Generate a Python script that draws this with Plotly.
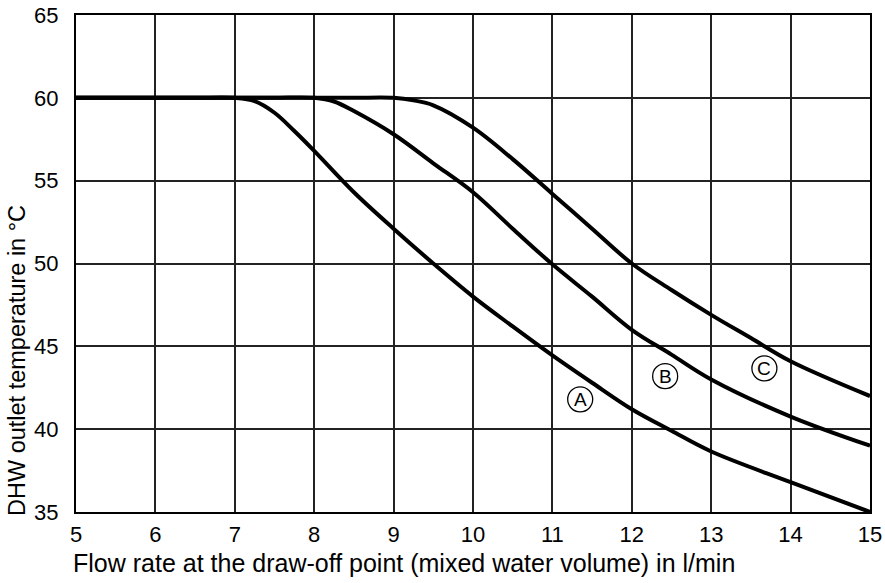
import plotly.graph_objects as go

# Curve A
a_x = [5, 6, 6.5, 7, 7.25, 7.5, 7.75, 8, 8.5, 9, 9.5, 10, 10.5, 11, 11.5, 12, 12.5, 13, 14, 15]
a_y = [60, 60, 60, 60, 59.8, 59.1, 58.0, 56.8, 54.3, 52.1, 50.0, 48.0, 46.2, 44.45, 42.8, 41.2, 39.9, 38.65, 36.8, 35.0]
# Curve B
b_x = [5, 6, 7, 7.5, 8, 8.25, 8.5, 9, 9.5, 10, 10.5, 11, 11.5, 12, 12.5, 13, 14, 15]
b_y = [60, 60, 60, 60, 60, 59.78, 59.2, 57.8, 56.05, 54.3, 52.1, 49.95, 48.0, 46.0, 44.5, 43.0, 40.76, 39.0]
# Curve C
c_x = [5, 6, 7, 8, 8.5, 9, 9.25, 9.5, 10, 10.5, 11, 11.5, 12, 12.5, 13, 13.5, 14, 15]
c_y = [60, 60, 60, 60, 60, 60, 59.85, 59.55, 58.2, 56.3, 54.2, 52.1, 50.0, 48.4, 46.9, 45.5, 44.1, 42.0]

labels = ["A", "B", "C"]
label_x = [11.35, 12.42, 13.67]
label_y = [41.8, 43.2, 43.67]

x_ticks = [5, 6, 7, 8, 9, 10, 11, 12, 13, 14, 15]
y_ticks = [35, 40, 45, 50, 55, 60, 65]

FONT = "Arial, Liberation Sans, sans-serif"

fig = go.Figure()
for xs, ys in [(a_x, a_y), (b_x, b_y), (c_x, c_y)]:
    fig.add_trace(go.Scatter(x=xs, y=ys, mode="lines",
                             line=dict(color="black", width=4, shape="spline", smoothing=1.0),
                             hoverinfo="skip", showlegend=False))

for lab, lx, ly in zip(labels, label_x, label_y):
    fig.add_shape(type="circle", xref="x", yref="y", xsizemode="pixel", ysizemode="pixel",
                  xanchor=lx, yanchor=ly, x0=-12.5, x1=12.5, y0=-12.5, y1=12.5,
                  line=dict(color="black", width=1.3), fillcolor="white", layer="above")
    fig.add_annotation(x=lx, y=ly, xref="x", yref="y", text=lab, showarrow=False,
                       font=dict(family=FONT, size=19, color="black"))

fig.add_annotation(xref="paper", yref="paper", x=0, y=0, xanchor="left", yanchor="middle",
                   xshift=-5, yshift=-51, showarrow=False,
                   text="Flow rate at the draw-off point (mixed water volume) in l/min",
                   font=dict(family=FONT, size=25, color="black"))
fig.add_annotation(xref="paper", yref="paper", x=0, y=0, xanchor="center", yanchor="bottom",
                   xshift=-59.5, yshift=-6, showarrow=False, textangle=-90,
                   text="DHW outlet temperature in °C",
                   font=dict(family=FONT, size=23.5, color="black"))

fig.update_xaxes(range=[5, 15], tickvals=x_ticks, ticktext=[str(v) for v in x_ticks],
                 showgrid=True, gridcolor="#222", gridwidth=1.5, automargin=False,
                 showline=True, linecolor="black", linewidth=2, mirror=True,
                 zeroline=False, ticks="", ticklabelstandoff=2, ticklabeloverflow="allow",
                 tickfont=dict(family=FONT, size=22, color="black"))
fig.update_yaxes(range=[35, 65], tickvals=y_ticks, ticktext=[str(v) for v in y_ticks],
                 showgrid=True, gridcolor="#222", gridwidth=1.5, automargin=False,
                 showline=True, linecolor="black", linewidth=2, mirror=True,
                 zeroline=False, ticks="", ticklabelstandoff=11, ticklabeloverflow="allow",
                 tickfont=dict(family=FONT, size=22, color="black"))

fig.update_layout(width=885, height=583, autosize=False,
                  margin=dict(l=76, r=15, t=15, b=71, autoexpand=False),
                  plot_bgcolor="white", paper_bgcolor="white")

fig.write_html("out.html", config={"displayModeBar": False},
               post_script="document.body.style.margin='0';document.body.style.overflow='hidden';")
